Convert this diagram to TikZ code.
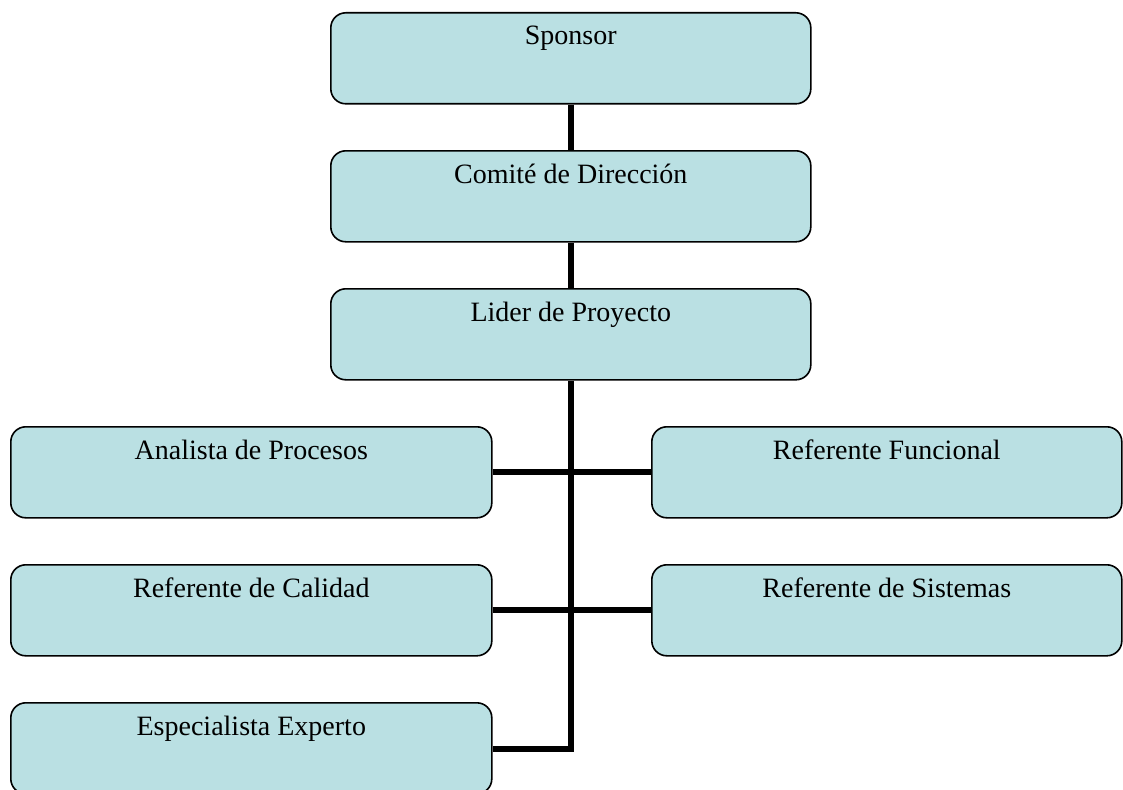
\documentclass[tikz,border=0pt]{standalone}
\usepackage{fontspec}
\setmainfont{Liberation Serif}
\usetikzlibrary{calc}
\definecolor{boxfill}{RGB}{186,224,227}
\begin{document}
\begin{tikzpicture}[x=1pt,y=-1pt,
  orgbox/.style={draw=black, line width=1.6pt, fill=boxfill, rounded corners=15pt,
    rectangle, minimum height=91pt, inner sep=0pt, anchor=north west},
  ttl/.style={label={[anchor=base, yshift=-33pt, font=\fontsize{28}{34}\selectfont]north:#1}},
  conn/.style={line width=6pt, black, line join=miter}]
\useasboundingbox (0,0) rectangle (1123,789);
\clip (0,0) rectangle (1123,789);
\node[orgbox, minimum width=480pt, ttl={Sponsor}] (sp) at (330,12) {};
\node[orgbox, minimum width=480pt, ttl={Comité de Dirección}] (cd) at (330,150) {};
\node[orgbox, minimum width=480pt, ttl={Lider de Proyecto}] (lp) at (330,288) {};
\node[orgbox, minimum width=481pt, ttl={Analista de Procesos}] (ap) at (10,426) {};
\node[orgbox, minimum width=481pt, ttl={Referente de Calidad}] (rc) at (10,564) {};
\node[orgbox, minimum width=481pt, ttl={Especialista Experto}] (ee) at (10,702) {};
\node[orgbox, minimum width=470pt, ttl={Referente Funcional}] (rf) at (651,426) {};
\node[orgbox, minimum width=470pt, ttl={Referente de Sistemas}] (rs) at (651,564) {};
\coordinate (bend) at ($(lp.south)+(0,368)$);
\draw[conn] (sp.south) -- (cd.north);
\draw[conn] (cd.south) -- (lp.north);
\draw[conn] (lp.south) -- (bend) -- (ee.east |- bend);
\draw[conn] (ap.east) -- (rf.west);
\draw[conn] (rc.east) -- (rs.west);
\end{tikzpicture}
\end{document}
